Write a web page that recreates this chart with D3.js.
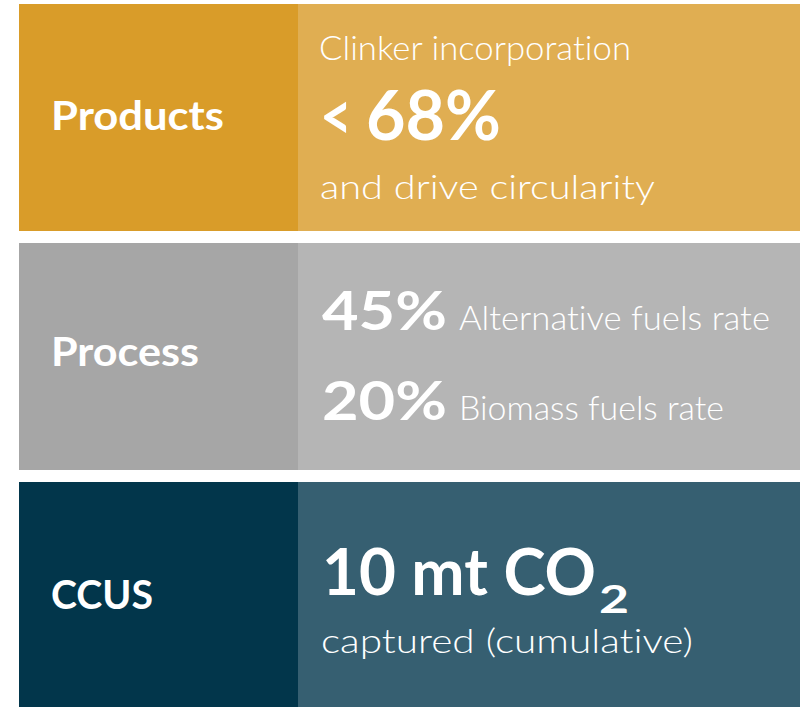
<!DOCTYPE html>
<html>
<head>
<meta charset="utf-8">
<script src="https://cdn.jsdelivr.net/npm/d3@7"></script>
<style>
  html, body { margin: 0; padding: 0; background: #ffffff; }
  svg { display: block; }
  text { font-family: Lato, "Open Sans", sans-serif; fill: #ffffff; font-variant-ligatures: none; font-feature-settings: "liga" 0; }
</style>
</head>
<body>
<svg id="chart" width="806" height="707"></svg>
<script>
// ---- data ----
const categories = ["Products", "Process", "CCUS"];
const productsTop = "Clinker incorporation";
const productsLess = "<";
const productsValue = "68%";
const productsBottom = "and drive circularity";
const processValues = ["45%", "20%"];
const processLabels = ["Alternative fuels rate", "Biomass fuels rate"];
const ccusValue = "10 mt CO";
const ccusSub = "2";
const ccusLabel = "captured (cumulative)";

// ---- styles ----
const darkFill = { Products: "#d99c29", Process: "#a6a6a6", CCUS: "#02364b" };
const lightFill = { Products: "#e0ae52", Process: "#b5b5b5", CCUS: "#365f71" };

const svg = d3.select("#chart");

const y = d3.scaleBand().domain(categories).range([4, 709]).paddingInner(12 / 239).paddingOuter(0);
const x = d3.scaleOrdinal().domain(["label", "detail"]).range([19, 298]);
const xEnd = 800;

const rows = svg.selectAll("g.row").data(categories).join("g").attr("class", "row")
  .attr("transform", d => `translate(0,${y(d)})`);

rows.append("rect")
  .attr("x", x("label")).attr("y", 0)
  .attr("width", x("detail") - x("label")).attr("height", y.bandwidth())
  .attr("fill", d => darkFill[d]);
rows.append("rect")
  .attr("x", x("detail")).attr("y", 0)
  .attr("width", xEnd - x("detail")).attr("height", y.bandwidth())
  .attr("fill", d => lightFill[d]);

function put(g, str, px, py, size, weight, width) {
  const t = g.append("text").attr("x", px).attr("y", py)
    .attr("font-size", size).attr("font-weight", weight).text(str);
  if (width) t.attr("textLength", width).attr("lengthAdjust", "spacingAndGlyphs");
  return t;
}

const labelBase = { Products: 126, Process: 123, CCUS: 127 };
const labelWidth = { Products: 173, Process: 148, CCUS: 102 };
rows.each(function(d) {
  put(d3.select(this), d, 51, labelBase[d], 41, 700, labelWidth[d]);
});

// Products details
const gP = svg.append("g").attr("transform", `translate(0,${y("Products")})`);
put(gP, productsTop, 319, 56, 33, 300, 312);
put(gP, productsLess, 320, 136, 66, 700, 32);
put(gP, productsValue, 366, 136, 69, 700, 135);
put(gP, productsBottom, 320, 195, 33, 300, 335);

// Process details
const gR = svg.append("g").attr("transform", `translate(0,${y("Process")})`);
const valW = [125, 125], labW = [311, 265], base = [87, 177];
processValues.forEach((v, i) => {
  put(gR, v, 322, base[i], 53, 700, valW[i]);
  put(gR, processLabels[i], 459, base[i], 33, 300, labW[i]);
});

// CCUS details
const gC = svg.append("g").attr("transform", `translate(0,${y("CCUS")})`);
const tC = gC.append("text").attr("font-weight", 700);
tC.append("tspan").attr("x", 322).attr("y", 113).attr("font-size", 65)
  .attr("textLength", 274).attr("lengthAdjust", "spacingAndGlyphs").text(ccusValue);
tC.append("tspan").attr("x", 599).attr("y", 131).attr("font-size", 39)
  .attr("textLength", 30).attr("lengthAdjust", "spacingAndGlyphs").text(ccusSub);
put(gC, ccusLabel, 321, 171, 34, 300, 372);
</script>
</body>
</html>
